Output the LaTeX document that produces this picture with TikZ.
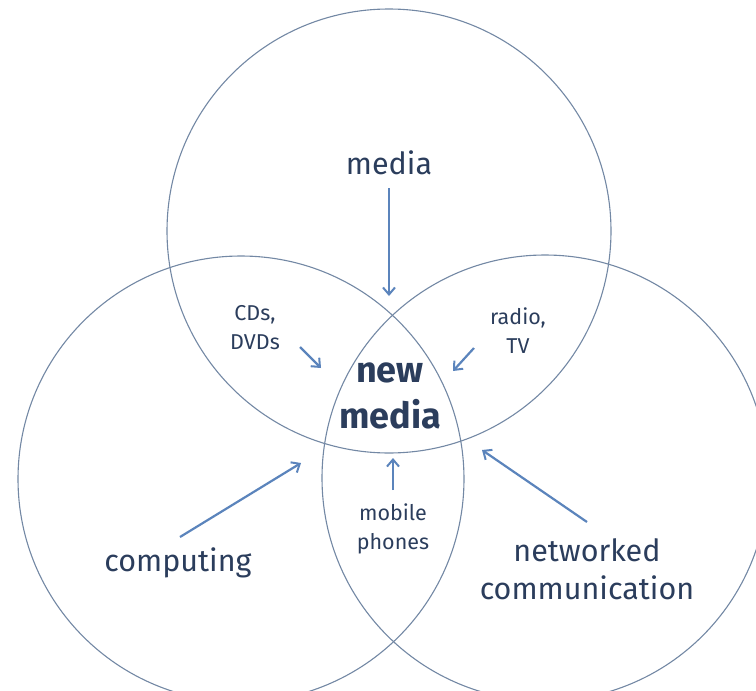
\documentclass[tikz,border=0pt]{standalone}
\usepackage{fontspec}
\setmainfont{Fira Sans}
\usetikzlibrary{arrows.meta}
\definecolor{ringcol}{HTML}{7388A4}
\definecolor{arrowcol}{HTML}{5B84BC}
\definecolor{textcol}{HTML}{2B3D5C}
\begin{document}
\begin{tikzpicture}[x=1pt,y=-1pt,
  ring/.style={draw=ringcol,line width=1.1pt},
  arr/.style={draw=arrowcol,line width=2.2pt,-{Straight Barb[length=7pt,width=12pt,line width=2pt]}},
  big/.style={text=textcol,font=\fontsize{30.5}{38}\selectfont,align=center,inner sep=0pt},
  small/.style={text=textcol,font=\fontsize{21.5}{29}\selectfont,align=center,inner sep=0pt},
  core/.style={text=textcol,font=\bfseries\fontsize{36}{46}\selectfont,align=center,inner sep=0pt}]
\useasboundingbox (0,0) rectangle (756,691);
% the three overlapping sets
\draw[ring] (389,231) circle[radius=222];
\draw[ring] (241,479) circle[radius=223];
\draw[ring] (545,478) circle[radius=223];
% labels
\node[big] (media) at (389,163) {media};
\node[big] (computing) at (178,563) {computing};
\node[big] (network) at (587,569) {networked\\communication};
\node[small] (cds) at (255,328) {CDs,\\DVDs};
\node[small] (radio) at (518,331) {radio,\\TV};
\node[small] (mobile) at (393,529) {mobile\\phones};
\node[core] (newmedia) at (390,396) {new\\media};
% arrow ends
\coordinate (mediaT) at (389,188);
\coordinate (mediaH) at (389,296);
\coordinate (cdsT) at (300,347);
\coordinate (cdsH) at (321,368);
\coordinate (radioT) at (474,348);
\coordinate (radioH) at (453,371);
\coordinate (compT) at (180,537);
\coordinate (compH) at (301,463);
\coordinate (mobT) at (393,490);
\coordinate (mobH) at (393,458);
\coordinate (netT) at (587,522);
\coordinate (netH) at (482,450);
% arrows toward the centre
\draw[arr] (mediaT) -- (mediaH);
\draw[arr] (cdsT) -- (cdsH);
\draw[arr] (radioT) -- (radioH);
\draw[arr] (compT) -- (compH);
\draw[arr] (mobT) -- (mobH);
\draw[arr] (netT) -- (netH);
\end{tikzpicture}
\end{document}
